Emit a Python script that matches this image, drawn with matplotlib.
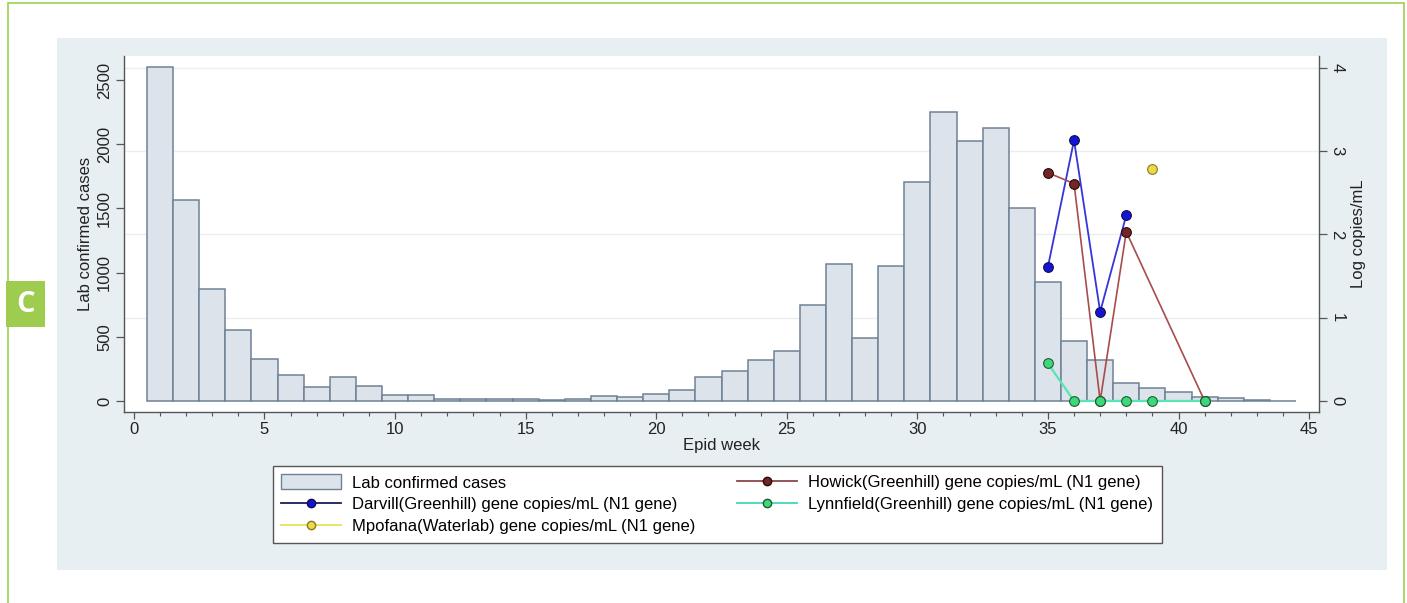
import numpy as np
import matplotlib
matplotlib.use('Agg')
import matplotlib.pyplot as plt
import matplotlib.patches as mpl_patches
from matplotlib.lines import Line2D

plt.rcParams['font.family'] = ['Liberation Sans', 'DejaVu Sans']

# weekly lab confirmed cases, epid weeks 1..44
weeks = np.arange(1, 45)
cases = [2600, 1565, 875, 550, 325, 205, 110, 185, 120, 50,
         50, 18, 18, 18, 18, 8, 16, 42, 28, 52,
         85, 183, 235, 322, 386, 745, 1068, 490, 1050, 1710,
         2250, 2025, 2130, 1500, 930, 465, 317, 143, 99, 68,
         34, 20, 10, 3]

# wastewater log copies/mL (N1 gene)
darvill_wk = [35, 36, 37, 38]
darvill_val = [1.61, 3.13, 1.07, 2.23]
howick_wk = [35, 36, 37, 38, 41]
howick_val = [2.74, 2.61, 0.0, 2.03, 0.0]
lynn_wk = [35, 36, 37, 38, 39, 41]
lynn_val = [0.45, 0.0, 0.0, 0.0, 0.0, 0.0]
mpof_wk = [39]
mpof_val = [2.78]

W, H = 1407, 603
fig = plt.figure(figsize=(W / 100, H / 100), dpi=100)
fig.patch.set_facecolor('white')

# outer green frame and grey panel
fig.patches.append(mpl_patches.Rectangle((7.5 / W, -0.2), (1403.5 - 7.5) / W, 1.2 - 2.5 / H,
                                         transform=fig.transFigure, fill=False,
                                         ec='#a3d65c', lw=1.3, zorder=0))
fig.patches.append(mpl_patches.Rectangle((57 / W, 1 - 570 / H), (1387 - 57) / W, (570 - 38) / H,
                                         transform=fig.transFigure, fc='#e8eff2', ec='none', zorder=0))
# panel letter
fig.patches.append(mpl_patches.Rectangle((6 / W, 1 - 327 / H), 39 / W, 46 / H,
                                         transform=fig.transFigure, fc='#9dcc4f', ec='none', zorder=1))
fig.text(25.5 / W, 1 - 304 / H, 'C', color='white', fontsize=21, fontweight='bold',
         family='Open Sans', ha='center', va='center')

ax = fig.add_axes([124 / W, 1 - 412 / H, (1319 - 124) / W, (412 - 56) / H])
ax.set_facecolor('white')
ax2 = ax.twinx()

ax.bar(weeks, cases, width=1.0, color='#dde3ea', edgecolor='#6f8296',
       linewidth=1.1, label='Lab confirmed cases', zorder=2)

ax.set_xlim(-0.38, 45.38)
ax.set_ylim(-86, 2688)
ax2.set_ylim(-86 / 649.0, 2688 / 649.0)

ax.set_xticks(np.arange(0, 46, 5))
ax.set_xticks(np.arange(0, 46, 1), minor=True)
ax.set_yticks([0, 500, 1000, 1500, 2000, 2500])
ax2.set_yticks([0, 1, 2, 3, 4])

for a in (ax, ax2):
    a.spines['top'].set_visible(False)
    for s in ('left', 'right', 'bottom'):
        a.spines[s].set_color('#555555')
        a.spines[s].set_linewidth(1.0)
ax.spines['right'].set_visible(False)
ax2.spines['left'].set_visible(False)
ax2.spines['bottom'].set_visible(False)

ax.tick_params(axis='x', which='major', length=5, width=0.9, color='#555555',
               labelsize=12, pad=2.5, labelcolor='#222222')
ax.tick_params(axis='x', which='minor', length=3, width=0.8, color='#555555')
ax.tick_params(axis='y', length=6, width=0.9, color='#555555', labelsize=12,
               pad=2.5, labelcolor='#222222')
ax2.tick_params(axis='y', length=6, width=0.9, color='#555555', labelsize=12,
                pad=1.5, labelcolor='#222222')
plt.setp(ax.get_yticklabels(), rotation=90, va='center')
plt.setp(ax2.get_yticklabels(), rotation=-90, va='center')

ax.set_xlabel('Epid week', fontsize=12, color='#222222', va='center')
ax.xaxis.set_label_coords(0.5, -0.0955)
ax.set_ylabel('Lab confirmed cases', fontsize=12, color='#222222', va='center')
ax.yaxis.set_label_coords(-0.032, 0.5)
ax2.set_ylabel('Log copies/mL', fontsize=12, color='#222222', va='center', rotation=90)
ax2.yaxis.set_label_coords(1.033, 0.5)

ax2.plot(darvill_wk, darvill_val, '-', color='#3535d8', lw=1.3, zorder=3)
ax2.plot(darvill_wk, darvill_val, 'o', ms=7, mfc='#1414d6', mec='#10104a', mew=0.8, zorder=5)
ax2.plot(howick_wk, howick_val, '-', color='#a84c4c', lw=1.2, zorder=3)
ax2.plot(howick_wk, howick_val, 'o', ms=7, mfc='#742626', mec='#2a0808', mew=0.8, zorder=5)
ax2.plot(lynn_wk, lynn_val, '-', color='#55e6b4', lw=1.6, zorder=3)
ax2.plot(lynn_wk, lynn_val, 'o', ms=7, mfc='#3fd67c', mec='#1b5e30', mew=0.8, zorder=5)
ax2.plot(mpof_wk, mpof_val, 'o', ms=7, mfc='#ecd848', mec='#8a7a20', mew=0.8, zorder=5)

ax.set_zorder(1)
ax2.set_zorder(2)
ax2.patch.set_visible(False)
# grid lines at the right-axis ticks, behind the bars
for v in ax2.get_yticks()[1:]:
    ax.axhline(v * 649.0, color='#e9eef0', lw=1.0, zorder=0)

handles = [
    mpl_patches.Patch(fc='#dde3ea', ec='#6f8296', lw=1.0),
    Line2D([], [], color='#1c1c5c', lw=1.3, marker='o', ms=6, mfc='#1414d6', mec='#10104a'),
    Line2D([], [], color='#e4e060', lw=1.3, marker='o', ms=6, mfc='#ecd848', mec='#8a7a20'),
    Line2D([], [], color='#8a4848', lw=1.3, marker='o', ms=6, mfc='#742626', mec='#2a0808'),
    Line2D([], [], color='#40d8b8', lw=1.3, marker='o', ms=6, mfc='#3fd67c', mec='#1b5e30'),
]
labels = ['Lab confirmed cases',
          'Darvill(Greenhill) gene copies/mL (N1 gene)',
          'Mpofana(Waterlab) gene copies/mL (N1 gene)',
          'Howick(Greenhill) gene copies/mL (N1 gene)',
          'Lynnfield(Greenhill) gene copies/mL (N1 gene)']
leg = fig.legend(handles, labels, ncol=2, loc='upper left',
                 bbox_to_anchor=(273 / W, 1 - 466 / H), bbox_transform=fig.transFigure,
                 fontsize=12, frameon=True, fancybox=False, edgecolor='#555555',
                 facecolor='white', framealpha=1, handlelength=3.6, handleheight=1.0,
                 handletextpad=0.66, columnspacing=2.5, labelspacing=0.35,
                 borderpad=0.5, borderaxespad=0)
leg.get_frame().set_linewidth(1.0)

fig.savefig('out.png', dpi=100)
